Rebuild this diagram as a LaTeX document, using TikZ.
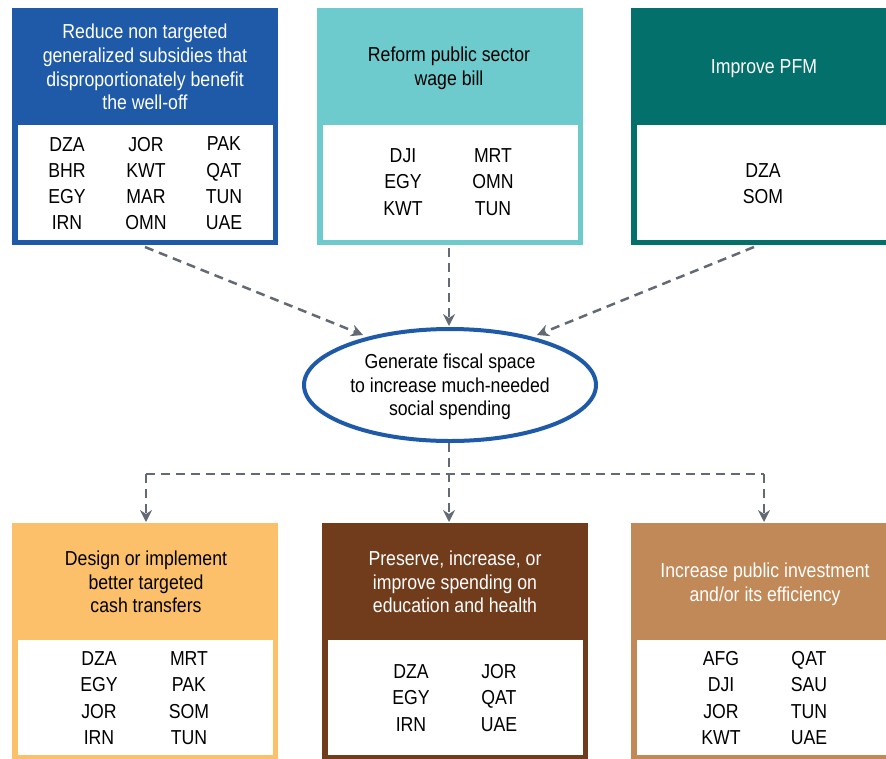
\documentclass[tikz,border=0pt]{standalone}
\usepackage{fontspec}
\setmainfont{Liberation Sans}[FakeStretch=0.875]
\usetikzlibrary{arrows.meta,shapes.geometric}
\definecolor{cblue}{HTML}{1F5AA8}
\definecolor{cteal}{HTML}{6ECBCD}
\definecolor{cdteal}{HTML}{03706C}
\definecolor{corange}{HTML}{FCC06A}
\definecolor{cbrown}{HTML}{703C1B}
\definecolor{ctan}{HTML}{C18858}
\definecolor{cgray}{HTML}{646A73}
\tikzset{
  outerbox/.style={draw=none, inner sep=0pt, minimum width=266pt, rectangle},
  innerbox/.style={fill=white, draw=none, inner sep=0pt, minimum width=255pt, minimum height=115pt, rectangle},
  hdr/.style={align=center, inner sep=0pt, font=\fontsize{20.2}{23.7}\selectfont},
  clist/.style={align=center, inner sep=0pt, font=\fontsize{20.2}{26.3}\selectfont},
  flow/.style={draw=cgray, line width=2.5pt, dash pattern=on 9pt off 6pt},
  flowarr/.style={flow, -{Stealth[length=12pt,width=12pt,inset=4pt]}}
}
\begin{document}
\begin{tikzpicture}[x=1pt,y=-1pt]
\useasboundingbox (0,0) rectangle (886,758);
\clip (0,0) rectangle (886,758);
% top boxes
\node[outerbox, fill=cblue, minimum height=237pt] (b1) at (145,126.5) {};
\node[innerbox] (w1) at (145.5,182.5) {};
\node[outerbox, fill=cteal, minimum height=237pt] (b2) at (449.5,126.5) {};
\node[innerbox] (w2) at (450,182.5) {};
\node[outerbox, fill=cdteal, minimum height=237pt] (b3) at (764,126.5) {};
\node[innerbox] (w3) at (764.5,182.5) {};
% bottom boxes
\node[outerbox, fill=corange, minimum height=240pt] (b4) at (145,643) {};
\node[innerbox] (w4) at (145.5,697.5) {};
\node[outerbox, fill=cbrown, minimum height=240pt] (b5) at (455,643) {};
\node[innerbox] (w5) at (455.5,697.5) {};
\node[outerbox, fill=ctan, minimum height=240pt] (b6) at (764,643) {};
\node[innerbox] (w6) at (764.5,697.5) {};
% headers
\node[hdr, text=white] (h1) at (145,67) {Reduce non targeted\\generalized subsidies that\\disproportionately benefit\\the well-off};
\node[hdr, text=black] (h2) at (449,68.5) {Reform public sector\\wage bill};
\node[hdr, text=white] (h3) at (764,69) {Improve PFM};
\node[hdr, text=black] (h4) at (146,582) {Design or implement\\better targeted\\cash transfers};
\node[hdr, text=white] (h5) at (455,582) {Preserve, increase, or\\improve spending on\\education and health};
\node[hdr, text=white] (h6) at (765,584) {Increase public investment\\and/or its efficiency};
% country lists
\node[clist] (c1a) at (67,183.5) {DZA\\BHR\\EGY\\IRN};
\node[clist] (c1b) at (146,183.5) {JOR\\KWT\\MAR\\OMN};
\node[clist] (c1c) at (224,183.5) {PAK\\QAT\\TUN\\UAE};
\node[clist] (c2a) at (403,182) {DJI\\EGY\\KWT};
\node[clist] (c2b) at (493,182) {MRT\\OMN\\TUN};
\node[clist] (c3a) at (763,183.5) {DZA\\SOM};
\node[clist] (c4a) at (99,698) {DZA\\EGY\\JOR\\IRN};
\node[clist] (c4b) at (189,698) {MRT\\PAK\\SOM\\TUN};
\node[clist] (c5a) at (411,698) {DZA\\EGY\\IRN};
\node[clist] (c5b) at (499,698) {JOR\\QAT\\UAE};
\node[clist] (c6a) at (721,698) {AFG\\DJI\\JOR\\KWT};
\node[clist] (c6b) at (809,698) {QAT\\SAU\\TUN\\UAE};
% ellipse
\node[ellipse, draw=cblue, line width=4pt, fill=white, minimum width=292pt, minimum height=112pt, inner sep=0pt] (ell) at (450,385) {};
\node[hdr, text=black] (et) at (450,387) {Generate fiscal space\\to increase much-needed\\social spending};
% connector coordinates
\coordinate (s1) at (145,247);
\coordinate (e1) at (363,335);
\coordinate (s2) at (449,248);
\coordinate (e2) at (449,326);
\coordinate (s3) at (754,247);
\coordinate (e3) at (537,335);
\coordinate (sb) at (449,443);
\coordinate (jn) at (449,474);
\coordinate (jl) at (146,474);
\coordinate (jr) at (764,474);
\coordinate (t4) at (146,522);
\coordinate (t5) at (449,522);
\coordinate (t6) at (764,522);
% connectors
\draw[flowarr] (s1) -- (e1);
\draw[flowarr] (s2) -- (e2);
\draw[flowarr] (s3) -- (e3);
\draw[flowarr] (sb) -- (t5);
\draw[flow] (jl) -- (jr);
\draw[flowarr] (jl) -- (t4);
\draw[flowarr] (jr) -- (t6);
\end{tikzpicture}
\end{document}
